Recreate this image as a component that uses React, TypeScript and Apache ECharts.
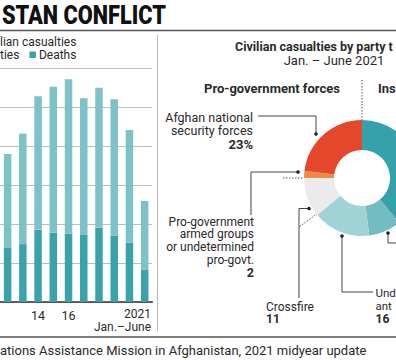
import React, { useEffect, useRef } from 'react';
import * as echarts from 'echarts';

// ---- data ----
const years = ['2012', '2013', '2014', '2015', '2016', '2017', '2018', '2019', '2020', '2021'];
const deaths = [2769, 2969, 3701, 3545, 3510, 3440, 3804, 3403, 3035, 1659];
const injuries = [4821, 5669, 6847, 7489, 7908, 7013, 7189, 6989, 5785, 3524];
const yearTickLabels: Record<string, string> = { '2014': '14', '2016': '16' };
const yMin = 0;
const yMax = 12000;
const yInterval = 2000;

const parties = [
  'Taliban',
  'ISKP',
  'Undetermined anti-govt. elements',
  'Crossfire',
  'Pro-government armed groups',
  'Afghan national security forces',
];
const partyShares = [39, 9, 16, 11, 2, 23];

// ---- styles ----
const FONT = 'Roboto, "Noto Sans", sans-serif';
const DARK_TEAL = '#3aa3a9';
const LIGHT_TEAL = '#7cc2c6';
const partyColors = ['#35a1aa', '#72bcc2', '#9fd3d6', '#ebebeb', '#ee8a48', '#e5472a'];
const INK = '#2a2a2a';
const LINE = '#444';

function txt(x: number, y: number, text: string, opts: any = {}) {
  return {
    type: 'text',
    x,
    y,
    scaleX: opts.scaleX || 1,
    silent: true,
    style: {
      text,
      fill: opts.fill || INK,
      fontFamily: FONT,
      fontSize: opts.size || 13,
      fontWeight: opts.weight || 'normal',
      align: opts.align || 'left',
      verticalAlign: 'middle',
      lineHeight: opts.lineHeight,
      rich: opts.rich,
    },
  };
}
function ln(x1: number, y1: number, x2: number, y2: number, stroke = LINE, lineWidth = 1, dash?: number[]) {
  return {
    type: 'line',
    silent: true,
    shape: { x1, y1, x2, y2 },
    style: { stroke, lineWidth, lineDash: dash },
  };
}
function poly(points: number[][]) {
  return { type: 'polyline', silent: true, shape: { points }, style: { stroke: LINE, lineWidth: 1, fill: null } };
}
function dot(cx: number, cy: number) {
  return { type: 'circle', silent: true, shape: { cx, cy, r: 1.8 }, style: { fill: '#222' } };
}
const bold = (size: number, lineHeight: number) => ({
  b: { fontFamily: FONT, fontSize: size, fontWeight: 'bold', fill: INK, lineHeight },
});

export default function App() {
  const ref = useRef<HTMLDivElement>(null);
  useEffect(() => {
    if (!ref.current) return;
    const chart = echarts.init(ref.current, undefined, { renderer: 'svg' });
    const graphic: any[] = [
      // title & rules
      txt(2, 15.5, 'STAN CONFLICT', { size: 25, weight: 900, fill: '#111', scaleX: 0.87 }),
      ln(0, 30.5, 396, 30.5, '#555', 1.5),
      ln(0, 337, 396, 337, '#555', 1.5),
      ln(157.5, 35, 157.5, 331, '#bbb', 1),
      // left legend (one text block with a coloured square)
      txt(0, 48.5, '{t|lian casualties}\n{t|ties}{g| }{sq| }{g2| }{t|Deaths}', {
        size: 12,
        lineHeight: 12.5,
        rich: {
          t: { fontFamily: FONT, fontSize: 12, fill: INK, lineHeight: 12.5 },
          g: { width: 10, fontSize: 12, lineHeight: 12.5 },
          sq: { width: 6.5, height: 6.5, backgroundColor: DARK_TEAL, fontSize: 6, lineHeight: 6.5 },
          g2: { width: 3, fontSize: 12, lineHeight: 12.5 },
        },
      }),
      txt(151, 320.5, '2021\nJan.\u2013June', { align: 'right', size: 12, lineHeight: 12.6 }),
      // source
      txt(0, 350, 'ations Assistance Mission in Afghanistan, 2021 midyear update'),
      // right panel headers
      txt(235, 46, 'Civilian casualties by party t', { weight: 'bold', size: 12.5 }),
      txt(334, 60, 'Jan. \u2013 June 2021', { align: 'center' }),
      txt(204, 88, 'Pro-government forces', { weight: 'bold' }),
      txt(378, 88, 'Ins', { weight: 'bold' }),
      // dotted separators
      ln(362, 80, 362, 120, '#555', 1, [1.5, 1.5]),
      ln(283, 178, 304, 178, '#555', 1, [1.5, 1.5]),
      ln(299.5, 226.5, 317.5, 213.5, '#555', 1, [1.5, 1.5]),
      // ANSF
      txt(253, 130.5, 'Afghan national\nsecurity forces\n{b|23%}', { align: 'right', size: 12.5, lineHeight: 13.5, rich: bold(13, 13.5) }),
      poly([[258, 116], [316, 116], [316, 134]]),
      dot(316, 134),
      // pro-gov armed groups
      txt(254, 247.5, 'Pro-government\narmed groups\nor undetermined\npro-govt.\n{b|2}', { align: 'right', size: 12, lineHeight: 12.6, rich: bold(12.5, 13.5) }),
      poly([[251, 215], [251, 172], [298, 172]]),
      dot(298, 172),
      // crossfire
      txt(266, 313, 'Crossfire\n{b|11}', { size: 12, lineHeight: 12.6, rich: bold(12, 12.6) }),
      poly([[299, 298], [299, 208.5], [309, 208.5]]),
      dot(309, 208.5),
      // undetermined AGE
      txt(375.5, 306, 'Und\nant\n{b|16}', { size: 11.5, lineHeight: 13.2, rich: bold(12, 13.2) }),
      poly([[342, 236], [342, 292], [373, 292]]),
      dot(342, 236),
      // ISKP (cropped)
      poly([[388, 233], [388, 243], [396, 243]]),
      dot(388, 233),
    ];

    chart.setOption({
      animation: false,
      backgroundColor: '#fff',
      grid: { left: -4.4, top: 68, width: 156.7, height: 234, containLabel: false },
      xAxis: {
        type: 'category',
        data: years,
        axisLine: { lineStyle: { color: '#333', width: 1.5 } },
        axisTick: { show: false },
        axisLabel: {
          margin: 7,
          fontFamily: FONT,
          fontSize: 12.5,
          color: INK,
          interval: 0,
          formatter: (v: string) => yearTickLabels[v] || '',
        },
      },
      yAxis: {
        type: 'value',
        min: yMin,
        max: yMax,
        interval: yInterval,
        axisLabel: { show: false },
        axisLine: { show: false },
        axisTick: { show: false },
        splitLine: { lineStyle: { color: '#bdbdbd', width: 1 } },
      },
      series: [
        {
          name: 'Deaths',
          type: 'bar',
          stack: 'total',
          data: deaths,
          barWidth: 7.5,
          itemStyle: { color: DARK_TEAL },
        },
        {
          name: 'Injuries',
          type: 'bar',
          stack: 'total',
          data: injuries,
          barWidth: 7.5,
          itemStyle: { color: LIGHT_TEAL },
        },
        {
          name: 'By party',
          type: 'pie',
          center: [362, 178],
          radius: [28, 58],
          startAngle: 90,
          clockwise: true,
          label: { show: false },
          labelLine: { show: false },
          silent: true,
          data: parties.map((p, i) => ({ name: p, value: partyShares[i], itemStyle: { color: partyColors[i] } })),
        },
      ],
      graphic,
    });
    return () => chart.dispose();
  }, []);
  return (
    <div style={{ position: 'fixed', left: 0, top: 0, width: 396, height: 360, background: '#fff', overflow: 'hidden' }}>
      <div ref={ref} style={{ width: 396, height: 360 }} />
    </div>
  );
}
